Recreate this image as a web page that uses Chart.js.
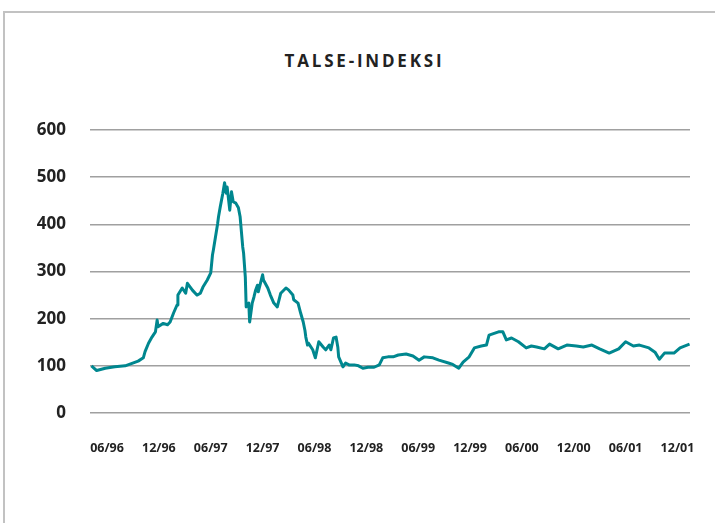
<!DOCTYPE html>
<html>
<head>
<meta charset="utf-8">
<script src="https://cdn.jsdelivr.net/npm/chart.js@4"></script>
<style>
  html, body { margin: 0; padding: 0; background: #fff; }
  #wrap { position: relative; width: 715px; height: 523px; overflow: hidden; }
  #frame { position: absolute; left: 3px; top: 11px; width: 800px; height: 600px;
           border-top: 2px solid #c2c2c2; border-left: 2px solid #c2c2c2; }
  #title { position: absolute; left: 7px; top: 52px; width: 715px; text-align: center;
           font: bold 17px "Open Sans"; line-height: 17px; letter-spacing: 2.8px; color: #222; }
  canvas { position: absolute; left: 0; top: 0; }
</style>
</head>
<body>
<div id="wrap">
  <div id="frame"></div>
  <div id="title">TALSE-INDEKSI</div>
  <canvas id="chart" width="715" height="523"></canvas>
</div>
<script>
"use strict";

// months since 01/1996
const months = [
  3.2, 3.8, 4.8, 5.9, 7.1, 8.6, 9.2, 9.4, 9.8, 10.2, 10.6, 10.8, 10.9, 11.5, 12.0,
  12.3, 12.7, 13.1, 13.2, 13.7, 14.1, 14.3, 14.9, 15.4, 15.8, 16.1, 16.6, 17.0,
  17.2, 17.3, 17.8, 17.9, 18.1, 18.4, 18.6, 18.8, 18.9, 19.2, 19.4, 19.6, 19.9,
  20.2, 20.4, 20.7, 20.8, 21.0, 21.1, 21.4, 21.5, 21.8, 22.0, 22.2, 22.4, 22.5,
  23.0, 23.1, 23.6, 23.9, 24.3, 24.7, 25.1, 25.7, 26.0, 26.5, 26.6, 27.1, 27.4,
  27.7, 27.9, 28.0, 28.2, 28.3, 28.8, 29.1, 29.5, 30.0, 30.3, 30.7, 30.9, 31.2,
  31.5, 31.7, 31.8, 32.3, 32.6, 33.0, 33.6, 34.1, 34.6, 35.2, 35.9, 36.5, 36.9,
  37.5, 38.1, 38.7, 39.6, 40.4, 41.1, 41.7, 42.7, 43.4, 44.5, 45.0, 45.7, 46.2,
  46.9, 47.5, 48.3, 48.9, 49.2, 50.3, 50.8, 51.2, 51.8, 52.6, 53.5, 54.1, 54.7,
  55.6, 56.2, 57.2, 58.2, 59.3, 60.1, 61.1, 62.0, 63.1, 64.2, 65.0, 65.9, 66.6,
  67.7, 68.4, 68.9, 69.5, 70.6, 71.3, 72.4
];
const talse = [
  100, 90, 95, 98, 100, 110, 117, 130, 148, 161, 172, 197, 183, 190, 187,
  193, 212, 229, 250, 265, 254, 275, 260, 250, 254, 267, 282, 297,
  335, 345, 402, 416, 437, 466, 488, 466, 479, 430, 469, 448, 445,
  435, 416, 352, 339, 288, 225, 233, 193, 233, 246, 261, 271, 257,
  293, 282, 265, 250, 233, 225, 254, 265, 261, 250, 240, 233, 212,
  193, 175, 161, 144, 148, 134, 117, 151, 140, 134, 144, 134, 159,
  161, 140, 119, 98, 106, 102, 102, 100, 95, 97, 97, 102, 117,
  119, 119, 123, 125, 121, 112, 119, 117, 112, 106, 103, 95, 108,
  119, 138, 142, 144, 165, 172, 172, 155, 159, 151, 138, 142, 140,
  136, 146, 136, 144, 142, 140, 144, 136, 127, 136, 151, 142, 144,
  138, 129, 114, 127, 127, 138, 146
];

const tickMonths = [5, 11, 17, 23, 29, 35, 41, 47, 53, 59, 65, 71];
const tickLabels = ["06/96", "12/96", "06/97", "12/97", "06/98", "12/98",
                    "06/99", "12/99", "06/00", "12/00", "06/01", "12/01"];

const lineColor = "#00878f";
const gridColor = "#a0a0a0";
const textColor = "#222";

const points = months.map((m, i) => ({ x: m, y: talse[i] }));

new Chart(document.getElementById("chart"), {
  type: "line",
  data: {
    datasets: [{
      data: points,
      borderColor: lineColor,
      borderWidth: 3,
      borderJoinStyle: "round",
      pointRadius: 0,
      tension: 0,
      fill: false
    }]
  },
  options: {
    responsive: false,
    animation: false,
    layout: { padding: { top: 130, right: 25, left: 0, bottom: 0 } },
    plugins: { legend: { display: false }, tooltip: { enabled: false } },
    scales: {
      x: {
        type: "linear",
        min: 3.03,
        max: 72.45,
        grid: { display: false },
        border: { display: false },
        afterFit: axis => { axis.height = 110; },
        afterBuildTicks: axis => {
          axis.ticks = tickMonths.map(v => ({ value: v }));
        },
        ticks: {
          autoSkip: false,
          maxRotation: 0,
          padding: 20,
          color: textColor,
          font: { family: "Open Sans", size: 12.5, weight: "bold" },
          callback: value => tickLabels[tickMonths.indexOf(value)]
        }
      },
      y: {
        min: 0,
        max: 600,
        grid: { color: gridColor, lineWidth: 1.6, drawTicks: false },
        border: { display: false },
        afterFit: axis => { axis.width = 90; },
        ticks: {
          stepSize: 100,
          padding: 24,
          color: textColor,
          font: { family: "Open Sans", size: 17, weight: "bold" }
        }
      }
    }
  }
});
</script>
</body>
</html>
